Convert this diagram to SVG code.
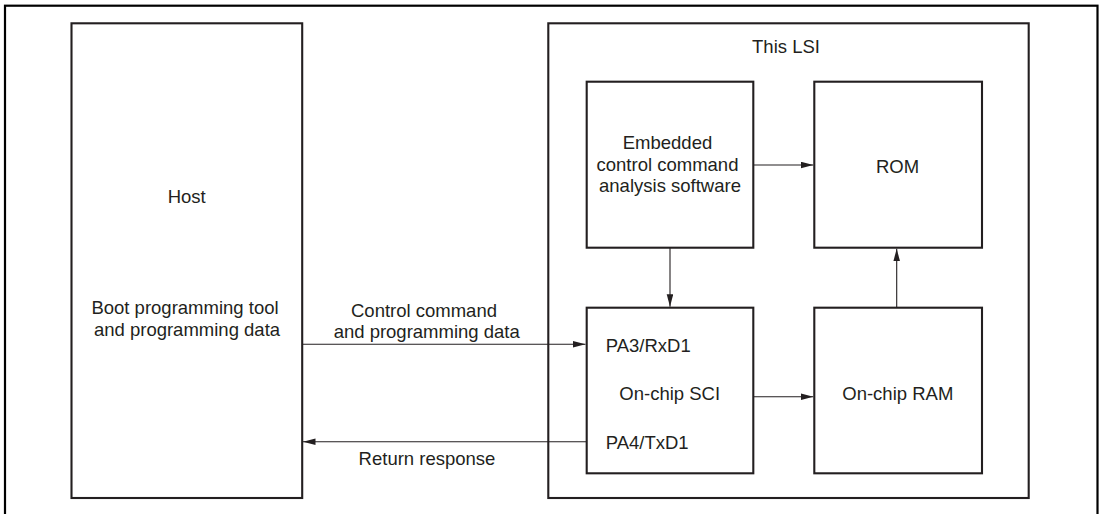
<svg xmlns="http://www.w3.org/2000/svg" width="1103" height="514" viewBox="0 0 1103 514">
<style>
.box{fill:#fff;stroke:#231f20;stroke-width:2.1}
.frame{fill:none;stroke:#000;stroke-width:2.2}
.con{fill:none;stroke:#231f20;stroke-width:1.1}
text{font-family:"Liberation Sans",Arial,sans-serif;font-size:18.5px;fill:#231f20}
.c{text-anchor:middle}
</style>
<defs>
<marker id="ah" markerUnits="userSpaceOnUse" markerWidth="13" markerHeight="8" refX="12.5" refY="3.3" orient="auto">
<path d="M0,0 L12.5,3.3 L0,6.6 z" fill="#231f20"/>
</marker>
</defs>
<rect class="frame" x="5" y="5.7" width="1092.5" height="530"/>
<g id="host">
<rect class="box" x="71.5" y="23.3" width="230.7" height="474.7"/>
<text class="c" x="186.7" y="203.3">Host</text>
<text class="c" x="185" y="314.3">Boot programming tool</text>
<text class="c" x="187" y="336">and programming data</text>
</g>
<g id="lsi">
<rect class="box" x="548.3" y="23.3" width="480.4" height="474.7"/>
<text class="c" x="786" y="53">This LSI</text>
</g>
<g id="embedded">
<rect class="box" x="586.7" y="81.7" width="166.6" height="166"/>
<text class="c" x="667.5" y="149">Embedded</text>
<text class="c" x="667.5" y="170.7">control command</text>
<text class="c" x="670" y="192.3">analysis software</text>
</g>
<g id="rom">
<rect class="box" x="814.3" y="81.7" width="167.7" height="166"/>
<text class="c" x="897.5" y="172.7">ROM</text>
</g>
<g id="sci">
<rect class="box" x="586.7" y="307.7" width="166.6" height="165.6"/>
<text x="605.7" y="352.3">PA3/RxD1</text>
<text class="c" x="669.7" y="400">On-chip SCI</text>
<text x="605.7" y="449">PA4/TxD1</text>
</g>
<g id="ram">
<rect class="box" x="814.3" y="307.7" width="167.7" height="165.6"/>
<text class="c" x="897.8" y="400">On-chip RAM</text>
</g>
<g id="connectors">
<line class="con" x1="302.2" y1="344.3" x2="585.5" y2="344.3" marker-end="url(#ah)"/>
<line class="con" x1="586.7" y1="441.7" x2="303" y2="441.7" marker-end="url(#ah)"/>
<line class="con" x1="753.3" y1="165" x2="813.3" y2="165" marker-end="url(#ah)"/>
<line class="con" x1="670" y1="247.7" x2="670" y2="306.7" marker-end="url(#ah)"/>
<line class="con" x1="753.3" y1="396.7" x2="813.3" y2="396.7" marker-end="url(#ah)"/>
<line class="con" x1="896.7" y1="307.7" x2="896.7" y2="248.7" marker-end="url(#ah)"/>
<text class="c" x="424" y="316.7">Control command</text>
<text class="c" x="426.7" y="337.7">and programming data</text>
<text class="c" x="427" y="465">Return response</text>
</g>
</svg>
